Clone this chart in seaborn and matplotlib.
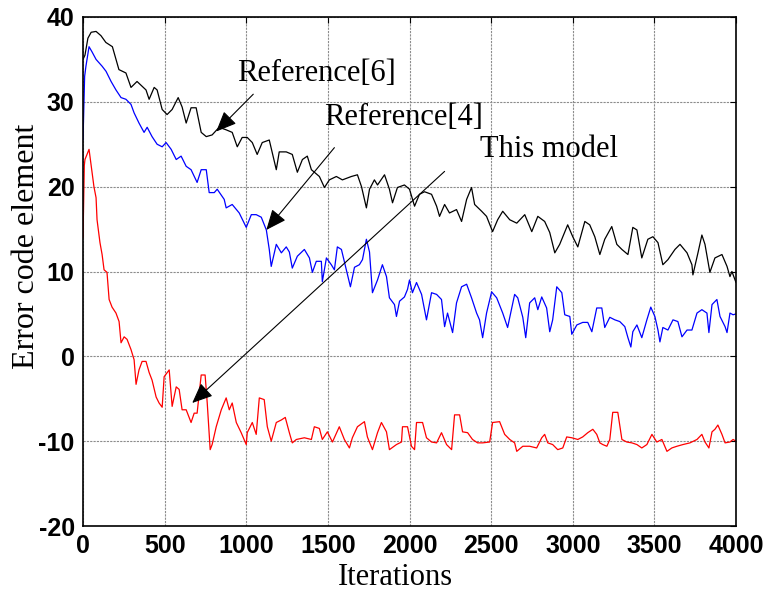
import matplotlib
matplotlib.use("Agg")
import matplotlib.pyplot as plt
import seaborn as sns
import pandas as pd

# ---- data ----
black_x = [0, 12, 30, 50, 80, 110, 140, 180, 220, 263,
           294, 331, 386, 405, 436, 454, 485, 515, 546, 583,
           607, 632, 662, 693, 724, 755, 791, 834, 877, 914,
           945, 975, 1006, 1037, 1067, 1098, 1141, 1184, 1202, 1245,
           1282, 1313, 1344, 1374, 1399, 1448, 1479, 1509, 1552, 1589,
           1644, 1681, 1706, 1736, 1755, 1785, 1804, 1847, 1877, 1896,
           1926, 1969, 2000, 2031, 2061, 2092, 2135, 2166, 2184, 2215,
           2245, 2288, 2319, 2350, 2380, 2399, 2442, 2472, 2509, 2540,
           2571, 2614, 2657, 2706, 2749, 2786, 2828, 2859, 2890, 2920,
           2969, 3000, 3031, 3074, 3104, 3135, 3166, 3196, 3239, 3270,
           3301, 3338, 3368, 3393, 3423, 3460, 3491, 3522, 3552, 3583,
           3626, 3657, 3700, 3730, 3736, 3767, 3791, 3810, 3840, 3871,
           3914, 3945, 3963, 3975, 4000]
black_y = [35.0, 35.5, 37.5, 38.2, 38.3, 37.8, 37.0, 36.5, 33.8, 33.4,
           31.7, 32.4, 31.4, 30.3, 31.7, 31.4, 29.1, 28.5, 29.1, 30.5,
           29.4, 27.5, 29.3, 29.3, 26.4, 25.9, 26.1, 27.0, 26.7, 26.4,
           24.7, 25.8, 25.8, 25.2, 23.8, 25.2, 25.5, 22.0, 24.1, 24.1,
           23.8, 21.7, 23.2, 23.6, 22.0, 21.2, 19.9, 20.8, 21.2, 20.8,
           21.2, 21.4, 20.0, 17.5, 19.7, 20.8, 20.2, 21.4, 19.7, 18.1,
           19.9, 20.2, 19.7, 17.7, 19.1, 19.4, 19.1, 17.7, 16.5, 17.9,
           16.9, 17.3, 15.9, 18.5, 19.9, 17.9, 17.1, 16.5, 14.7, 16.1,
           17.1, 16.1, 15.7, 16.7, 14.7, 16.5, 15.9, 14.6, 12.2, 13.2,
           15.5, 14.1, 12.9, 15.9, 15.5, 14.1, 12.0, 13.8, 15.3, 13.2,
           12.6, 12.0, 15.2, 14.9, 11.6, 13.8, 14.1, 13.4, 10.8, 11.4,
           12.6, 13.2, 12.2, 10.8, 9.6, 12.2, 14.3, 13.2, 9.9, 11.6,
           12.0, 10.6, 9.4, 10.0, 8.7]

blue_x = [0, 10, 18, 37, 55, 80, 117, 141, 172, 202,
          233, 263, 294, 313, 343, 374, 393, 423, 454, 485,
          509, 540, 571, 601, 632, 662, 699, 724, 755, 773,
          804, 822, 865, 877, 914, 957, 1000, 1031, 1061, 1092,
          1123, 1141, 1153, 1184, 1215, 1245, 1264, 1282, 1313, 1356,
          1387, 1405, 1429, 1460, 1466, 1491, 1521, 1540, 1558, 1583,
          1613, 1638, 1663, 1693, 1712, 1736, 1755, 1773, 1804, 1834,
          1859, 1877, 1908, 1920, 1939, 1969, 1988, 2000, 2018, 2043,
          2074, 2104, 2135, 2166, 2196, 2215, 2233, 2264, 2288, 2319,
          2350, 2380, 2411, 2429, 2448, 2472, 2503, 2534, 2571, 2601,
          2644, 2663, 2694, 2712, 2736, 2767, 2786, 2810, 2840, 2859,
          2877, 2902, 2933, 2951, 2982, 2994, 3025, 3061, 3092, 3117,
          3147, 3178, 3196, 3227, 3258, 3288, 3319, 3338, 3356, 3368,
          3393, 3423, 3454, 3478, 3503, 3522, 3534, 3552, 3583, 3614,
          3644, 3669, 3700, 3730, 3761, 3791, 3822, 3834, 3853, 3883,
          3902, 3933, 3945, 3963, 3982, 4000]
blue_y = [25.5, 33.0, 34.2, 36.5, 35.9, 35.0, 34.2, 33.6, 32.4, 31.4,
          30.5, 30.3, 29.7, 28.7, 27.5, 26.4, 27.0, 25.9, 25.0, 24.7,
          25.2, 24.4, 23.2, 23.6, 22.4, 22.0, 20.5, 22.0, 22.0, 19.3,
          19.3, 19.7, 18.5, 17.5, 17.9, 16.9, 15.2, 16.7, 16.7, 16.4,
          14.9, 12.6, 10.6, 13.2, 12.2, 12.9, 12.3, 10.4, 11.8, 12.6,
          11.6, 9.9, 11.2, 11.2, 8.8, 11.6, 10.8, 10.2, 12.9, 12.6,
          10.2, 8.2, 10.5, 10.8, 11.4, 13.8, 12.3, 7.5, 9.0, 10.8,
          9.4, 6.9, 6.1, 4.7, 6.5, 7.0, 7.9, 9.0, 7.5, 8.7,
          7.3, 4.3, 7.5, 7.3, 6.7, 3.5, 5.1, 2.8, 6.3, 8.2,
          8.5, 6.9, 5.1, 4.3, 2.2, 5.1, 7.6, 6.9, 5.1, 3.4,
          7.3, 6.9, 4.6, 2.2, 6.3, 6.9, 5.5, 7.0, 5.7, 2.9,
          4.3, 8.2, 7.5, 4.9, 4.7, 2.6, 3.7, 4.0, 4.0, 2.9,
          5.7, 5.7, 3.4, 4.6, 4.3, 4.1, 3.5, 2.2, 1.1, 2.9,
          3.7, 2.2, 4.3, 5.8, 4.7, 3.1, 1.7, 3.4, 3.1, 4.3,
          4.1, 2.3, 3.1, 3.1, 5.1, 5.5, 5.1, 2.8, 6.1, 6.7,
          4.7, 3.5, 2.8, 5.1, 4.9, 5.0]

red_x = [0, 8, 12, 37, 55, 67, 80, 86, 104, 117,
         129, 147, 160, 178, 202, 221, 233, 252, 270, 294,
         313, 325, 343, 362, 386, 405, 423, 448, 466, 485,
         497, 528, 546, 571, 589, 607, 632, 662, 681, 699,
         724, 748, 761, 779, 791, 816, 847, 877, 896, 914,
         939, 969, 1000, 1006, 1037, 1061, 1080, 1110, 1129, 1153,
         1184, 1215, 1239, 1264, 1282, 1307, 1356, 1399, 1417, 1448,
         1466, 1497, 1528, 1570, 1601, 1632, 1650, 1681, 1724, 1742,
         1773, 1804, 1828, 1859, 1877, 1920, 1951, 1957, 1988, 2012,
         2031, 2043, 2080, 2104, 2135, 2166, 2196, 2227, 2258, 2276,
         2307, 2325, 2356, 2386, 2417, 2448, 2491, 2509, 2552, 2583,
         2614, 2644, 2657, 2694, 2736, 2779, 2810, 2828, 2847, 2877,
         2908, 2939, 2963, 2994, 3031, 3061, 3092, 3123, 3147, 3166,
         3184, 3209, 3227, 3245, 3276, 3301, 3331, 3362, 3393, 3423,
         3454, 3485, 3515, 3546, 3577, 3607, 3638, 3675, 3718, 3761,
         3791, 3810, 3834, 3853, 3871, 3889, 3914, 3933, 3963, 3982,
         4000]
red_y = [14.0, 22.5, 23.2, 24.4, 21.8, 20.0, 18.7, 16.1, 13.4, 12.0,
         10.2, 9.9, 6.7, 5.8, 5.1, 4.1, 1.6, 2.3, 2.0, 0.8,
         -0.4, -3.3, -1.6, -0.6, -0.6, -1.9, -2.8, -4.8, -5.5, -6.0,
         -2.4, -1.6, -5.9, -3.6, -3.9, -6.3, -6.3, -7.8, -6.7, -6.7,
         -2.2, -2.2, -5.5, -11.0, -10.4, -8.3, -6.3, -4.9, -6.3, -5.5,
         -7.8, -9.0, -10.4, -9.0, -7.8, -9.2, -4.9, -5.1, -8.3, -10.0,
         -7.8, -7.5, -7.2, -9.0, -10.2, -9.8, -9.6, -9.8, -8.3, -8.5,
         -9.8, -8.9, -10.1, -8.3, -9.8, -10.8, -9.6, -8.3, -7.7, -9.5,
         -11.0, -9.0, -7.8, -8.9, -11.0, -10.4, -10.1, -8.3, -8.3, -10.6,
         -11.0, -7.8, -7.8, -9.6, -10.1, -10.2, -9.0, -10.4, -11.0, -6.9,
         -6.9, -8.9, -9.0, -9.8, -10.2, -10.2, -10.1, -7.8, -7.7, -9.2,
         -9.8, -10.2, -11.2, -10.6, -10.6, -10.8, -9.6, -9.2, -10.2, -10.4,
         -11.0, -10.8, -9.5, -9.6, -9.8, -9.5, -9.0, -8.6, -9.2, -10.2,
         -10.4, -10.6, -9.8, -6.6, -6.6, -9.8, -10.1, -10.2, -10.4, -10.8,
         -10.4, -9.2, -10.1, -9.8, -11.2, -10.8, -10.6, -10.4, -10.2, -9.8,
         -9.2, -10.1, -10.8, -8.9, -8.6, -8.1, -9.2, -10.2, -10.1, -9.8,
         -10.0]

series_names = ["Reference[6]", "Reference[4]", "This model"]
series_colors = ["#000000", "#0000ff", "#ff0000"]
x_ticks = [0, 500, 1000, 1500, 2000, 2500, 3000, 3500, 4000]
y_ticks = [-20, -10, 0, 10, 20, 30, 40]

df = pd.concat([
    pd.DataFrame({"Iterations": black_x, "value": black_y, "series": series_names[0]}),
    pd.DataFrame({"Iterations": blue_x, "value": blue_y, "series": series_names[1]}),
    pd.DataFrame({"Iterations": red_x, "value": red_y, "series": series_names[2]}),
], ignore_index=True)

sns.set_style("white")
plt.rcParams["font.family"] = ["Liberation Sans", "DejaVu Sans"]
plt.rcParams["axes.unicode_minus"] = False
plt.rcParams["text.color"] = "black"
plt.rcParams["axes.labelcolor"] = "black"
plt.rcParams["xtick.color"] = "black"
plt.rcParams["ytick.color"] = "black"

fig = plt.figure(figsize=(7.64, 5.94), dpi=100)
ax = fig.add_axes([83 / 764, 1 - 526 / 594, 653 / 764, 509 / 594])

sns.lineplot(data=df, x="Iterations", y="value", hue="series",
             palette=dict(zip(series_names, series_colors)),
             estimator=None, sort=False, linewidth=0.9, legend=False, ax=ax)

ax.set_xlim(0, 4000)
ax.set_ylim(-20, 40)
ax.set_xticks(x_ticks)
ax.set_yticks(y_ticks)
ax.grid(True, color="#8c8c8c", linestyle=(0, (2, 1)), linewidth=0.8)
ax.set_axisbelow(True)
for s in ax.spines.values():
    s.set_color("black")
    s.set_linewidth(1.2)
ax.tick_params(direction="in", length=4, width=0.8, top=True, right=True,
               labelsize=18, pad=6, colors="black")
for lab in ax.get_xticklabels() + ax.get_yticklabels():
    lab.set_fontweight("bold")
    lab.set_family(["Liberation Sans", "DejaVu Sans"])
    lab.set_color("black")

serif = ["Liberation Serif", "DejaVu Serif"]
ax.set_xlabel("Iterations", fontsize=22, family=serif, color="black")
ax.set_ylabel("Error code element", fontsize=23, family=serif, color="black")
ax.xaxis.set_label_coords(0.479, -0.102)
ax.xaxis.label.set_va("center")
ax.yaxis.set_label_coords(-0.086, 0.55)
ax.yaxis.label.set_va("center")

arrow_kw = dict(arrowstyle="-|>,head_length=0.7,head_width=0.3", color="black",
                lw=0.8, mutation_scale=18, shrinkA=0, shrinkB=0)
# Reference[6]
ax.text(945, 32.4, "Reference[6]", fontsize=22, family=serif, va="baseline", ha="left", color="black")
ax.annotate("", xy=(816, 26.5), xytext=(1043, 30.9), arrowprops=arrow_kw)
# Reference[4]
ax.text(1479, 27.3, "Reference[4]", fontsize=22, family=serif, va="baseline", ha="left", color="black")
ax.annotate("", xy=(1123, 14.9), xytext=(1540, 24.6), arrowprops=arrow_kw)
# This model
ax.text(2429, 23.5, "This model", fontsize=22, family=serif, va="baseline", ha="left", color="black")
ax.annotate("", xy=(669, -5.5), xytext=(2215, 21.8), arrowprops=arrow_kw)

fig.savefig("out.png", dpi=100)
